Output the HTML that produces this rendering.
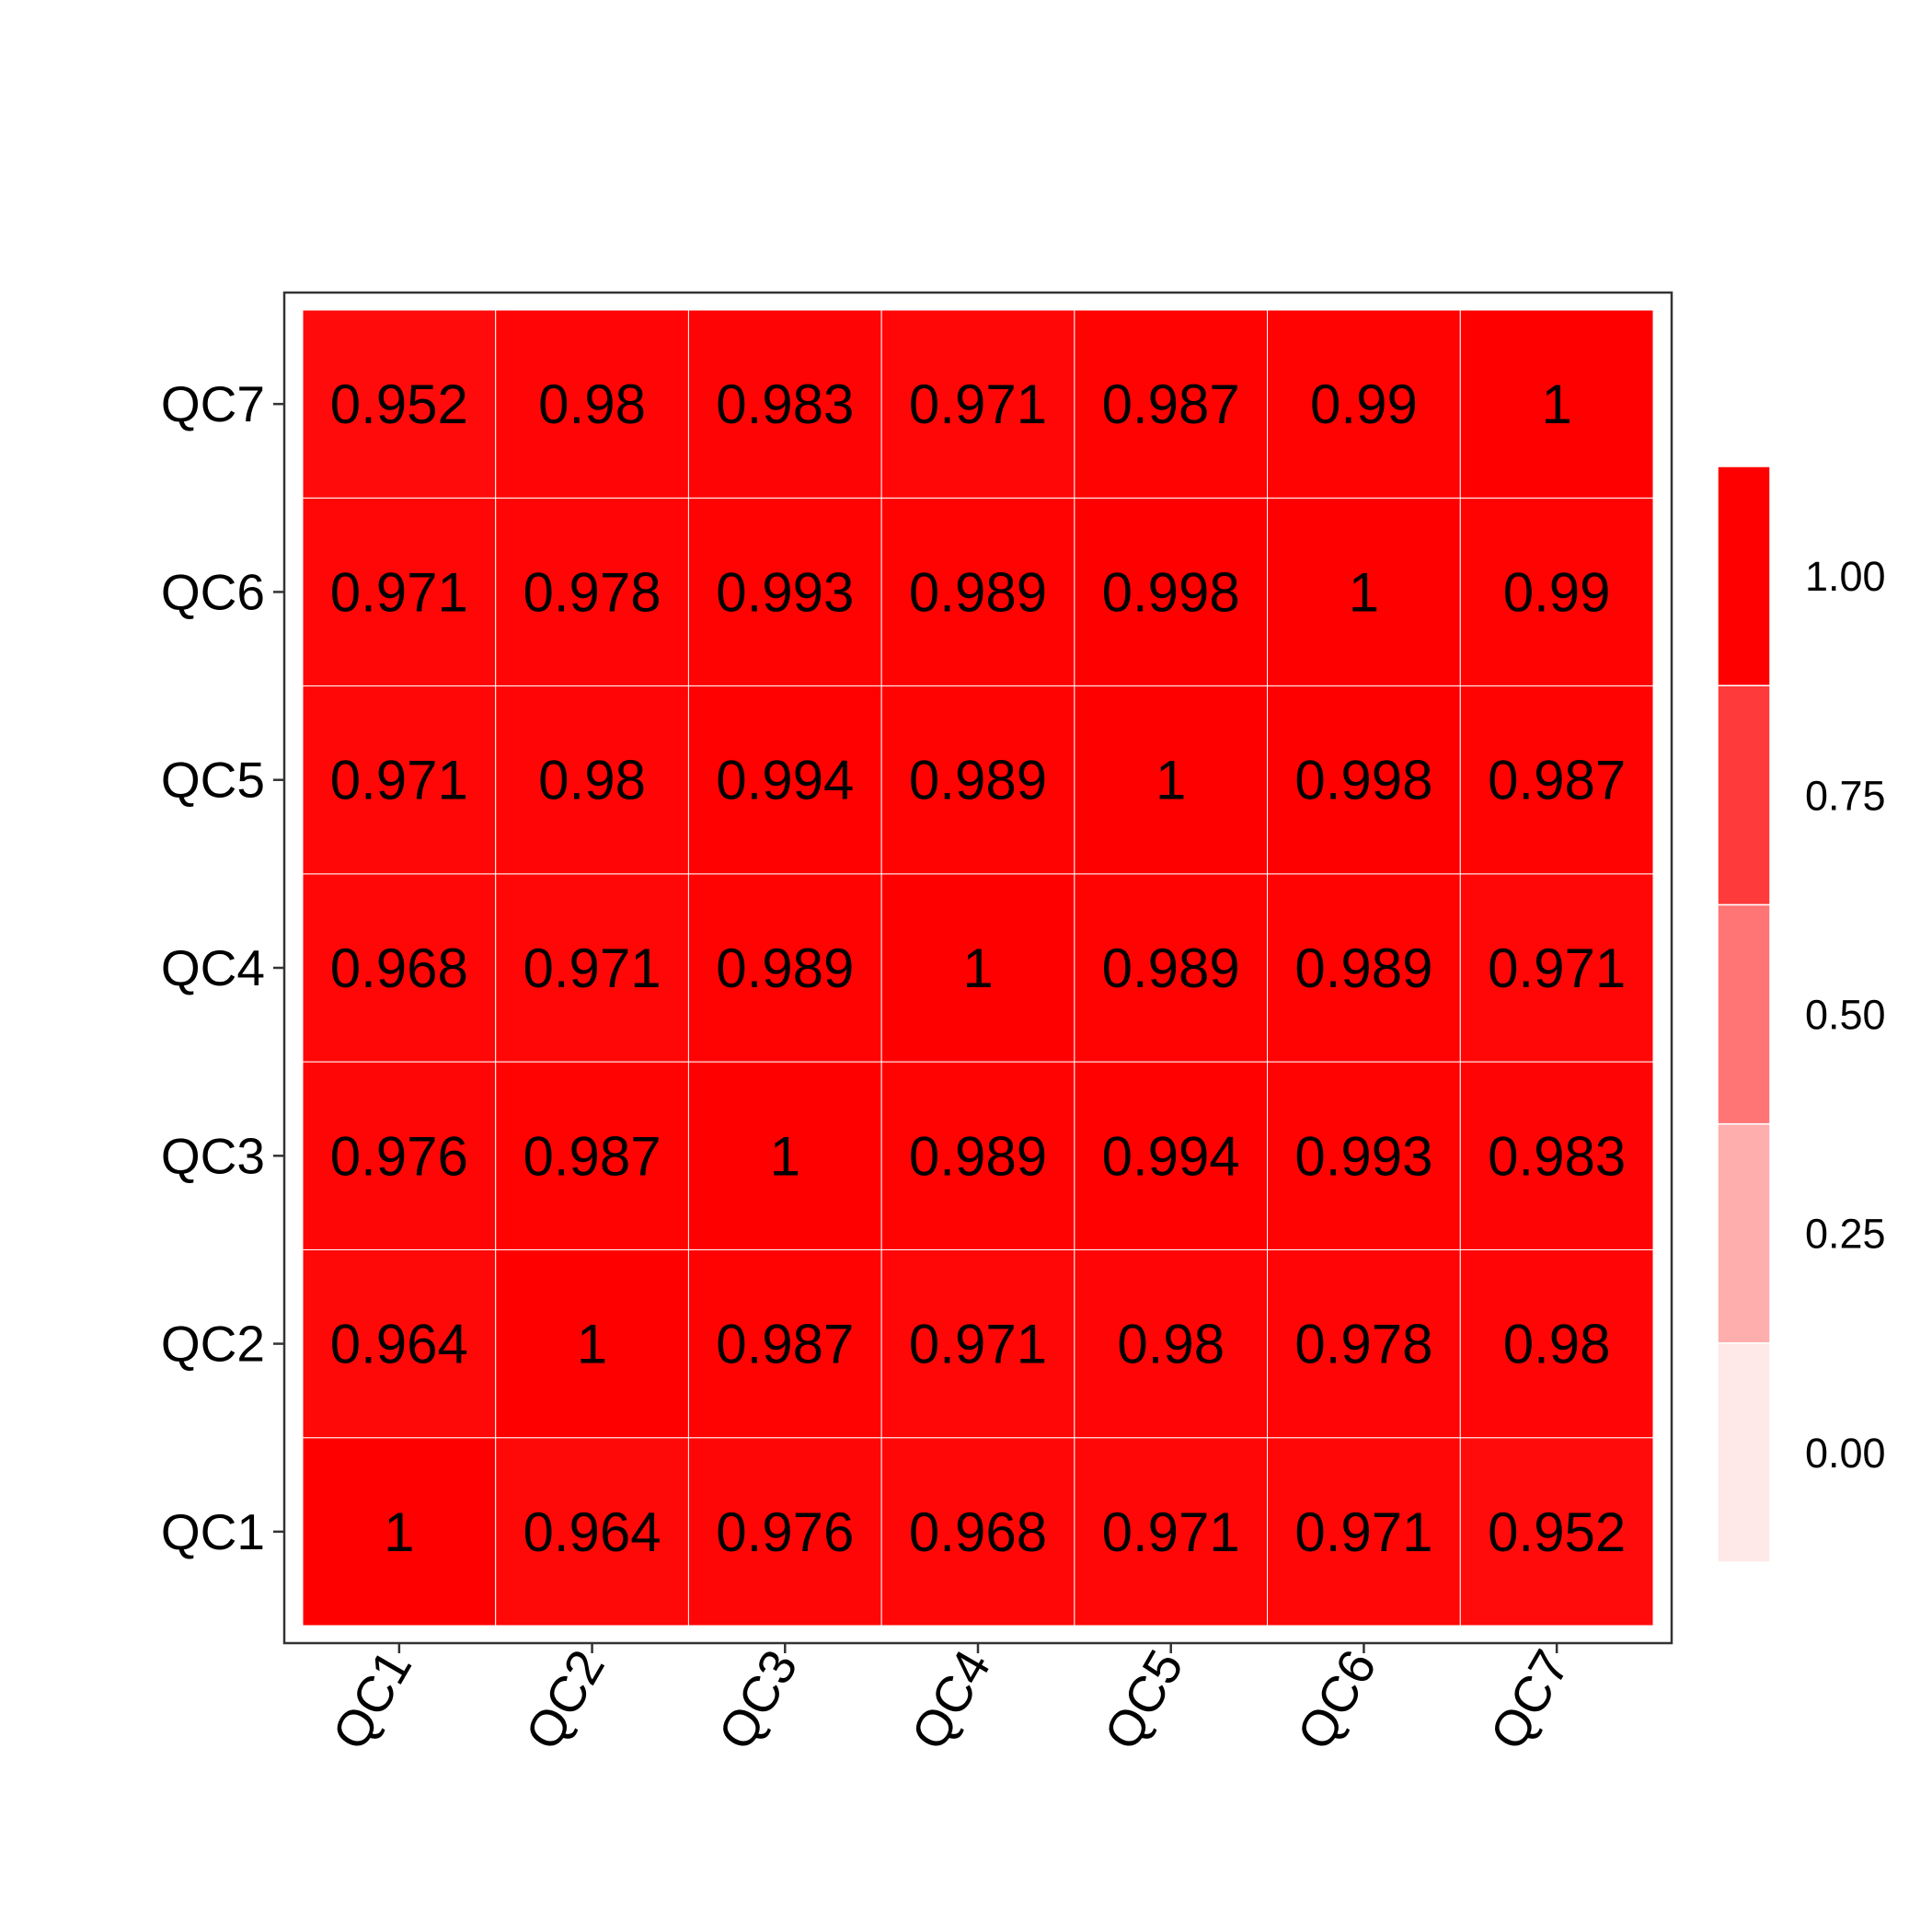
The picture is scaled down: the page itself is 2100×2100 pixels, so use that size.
<!DOCTYPE html>
<html><head><meta charset="utf-8"><style>body{margin:0;background:#fff}svg{display:block;font-family:"Liberation Sans",sans-serif}</style></head>
<body>
<svg id="chart" width="2100" height="2100" viewBox="0 0 2100 2100">
<rect x="0" y="0" width="2100" height="2100" fill="#fff"/>
<g id="cells"></g>
<rect x="309" y="318" width="1508" height="1468" fill="none" stroke="#333" stroke-width="2.5"/>
<g id="axes"></g>
<g id="legend"></g>
</svg>
<script>
const categories = ["QC1","QC2","QC3","QC4","QC5","QC6","QC7"];
const values = [
 [1,0.964,0.976,0.968,0.971,0.971,0.952],
 [0.964,1,0.987,0.971,0.98,0.978,0.98],
 [0.976,0.987,1,0.989,0.994,0.993,0.983],
 [0.968,0.971,0.989,1,0.989,0.989,0.971],
 [0.971,0.98,0.994,0.989,1,0.998,0.987],
 [0.971,0.978,0.993,0.989,0.998,1,0.99],
 [0.952,0.98,0.983,0.971,0.987,0.99,1]
];
const legendTicks = [0,0.25,0.5,0.75,1];
const legendLabels = ["0.00","0.25","0.50","0.75","1.00"];

const NS="http://www.w3.org/2000/svg";
const x0=329,x1=1797,y0=337,y1=1767,n=categories.length;
const cw=(x1-x0)/n, ch=(y1-y0)/n;
const xPos=i=>x0+i*cw, yPos=j=>y1-(j+1)*ch;
function color(v){const t=Math.max(0,Math.min(1,v));const g=Math.round(232*(1-t));return `rgb(255,${g},${g})`;}
function el(tag,attrs,parent){const e=document.createElementNS(NS,tag);for(const k in attrs)e.setAttribute(k,attrs[k]);parent.appendChild(e);return e;}
const cells=document.getElementById('cells'), axes=document.getElementById('axes'), legend=document.getElementById('legend');
values.forEach((row,j)=>row.forEach((v,i)=>{
  const r=el('rect',{x:xPos(i),y:yPos(j),width:cw,height:ch,fill:color(v),stroke:'#fff','stroke-width':1},cells);
  
  
  const t=el('text',{x:xPos(i)+cw/2,y:yPos(j)+ch/2+21,'text-anchor':'middle','font-size':60,fill:'#000'},cells);
  t.textContent=String(+v.toFixed(3));
  
  
}));
categories.forEach((c,i)=>{
  const cx=xPos(i)+cw/2;
  el('line',{x1:cx,x2:cx,y1:1786,y2:1797,stroke:'#333','stroke-width':2.5},axes);
  const tx=el('text',{x:0,y:0,transform:`translate(${cx+15},${1808}) rotate(-60)`,'text-anchor':'end','font-size':55,fill:'#000'},axes);
  tx.textContent=c;
  
  
  const cy=yPos(i)+ch/2;
  el('line',{x1:297,x2:309,y1:cy,y2:cy,stroke:'#333','stroke-width':2.5},axes);
  const ty=el('text',{x:288,y:cy+19,'text-anchor':'end','font-size':55,fill:'#000'},axes);
  ty.textContent=c;
  
  
});
const lx=1867,lw=57,ltop=507,lbot=1698,bh=(lbot-ltop)/legendTicks.length;
legendTicks.forEach((v,k)=>{
  const yy=lbot-(k+1)*bh;
  const r=el('rect',{x:lx,y:yy,width:lw,height:bh,fill:color(v),stroke:'#fff','stroke-width':1.5},legend);
  
  
  const t=el('text',{x:1962,y:yy+bh/2+16,'font-size':45,fill:'#000'},legend);
  t.textContent=legendLabels[k];
  
  
});
</script>
</body></html>
